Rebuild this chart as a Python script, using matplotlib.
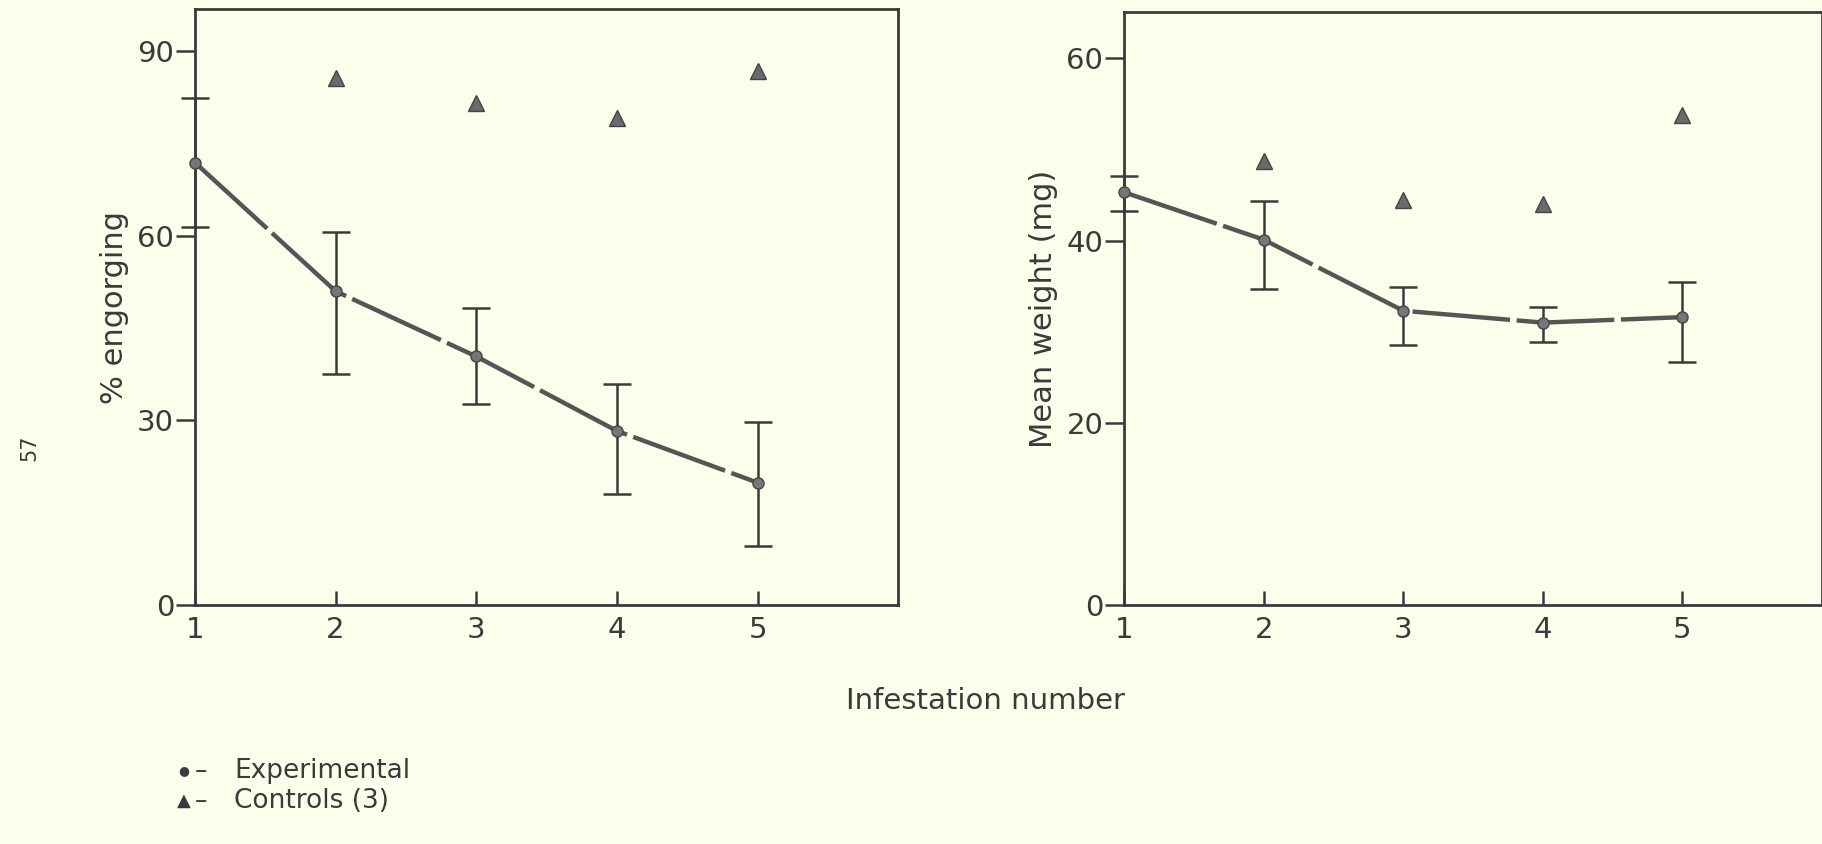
import matplotlib.pyplot as plt
import numpy as np

plt.rcParams['font.family'] = ['DejaVu Sans']

infestation = np.array([1, 2, 3, 4, 5])
control_x = np.array([2, 3, 4, 5])

# % engorging
engorge_exp = np.array([71.9, 51.0, 40.4, 28.3, 19.9])
engorge_hi = np.array([82.4, 60.7, 48.3, 36.0, 29.7])
engorge_lo = np.array([61.5, 37.6, 32.7, 18.1, 9.6])
engorge_ctrl = np.array([85.7, 81.5, 79.1, 86.8])

# mean weight (mg)
weight_exp = np.array([45.3, 40.1, 32.3, 31.0, 31.6])
weight_hi = np.array([47.1, 44.3, 34.9, 32.7, 35.5])
weight_lo = np.array([43.3, 34.7, 28.5, 28.9, 26.7])
weight_ctrl = np.array([48.7, 44.5, 44.0, 53.8])

bg = '#fdfdec'
ink = '#3a3a3a'

fig = plt.figure(figsize=(18.22, 8.44), dpi=100, facecolor=bg)
ax1 = fig.add_axes([0.107, 0.283, 0.386, 0.706])
ax2 = fig.add_axes([0.617, 0.283, 0.383, 0.703])


def panel(ax, y, hi, lo, ctrl, ymax, yticks, ylabel):
    ax.set_facecolor(bg)
    eb = ax.errorbar(infestation, y, yerr=[y - lo, hi - y], fmt='none',
                     ecolor=ink, elinewidth=1.8, capsize=10, capthick=1.8,
                     zorder=2)
    for art in eb.lines[1] + eb.lines[2]:
        art.set_clip_on(False)
    ax.plot(infestation, y, color='#555555', lw=3.2, dashes=(22, 1.5),
            zorder=3, clip_on=False)
    ax.plot(infestation, y, 'o', color='#767676', mec='#454545', ms=8,
            zorder=4, clip_on=False)
    ax.plot(control_x, ctrl, '^', color='#6a6a6a', mec='#444444', ms=12,
            zorder=4)
    ax.set_xlim(1, 6)
    ax.set_ylim(0, ymax)
    ax.set_xticks([1, 2, 3, 4, 5])
    ax.set_yticks(yticks)
    ax.tick_params(axis='x', direction='in', length=10, width=1.8,
                   labelsize=21, colors=ink, pad=8)
    ax.tick_params(axis='y', direction='out', length=14, width=1.8,
                   labelsize=21, colors=ink, pad=1)
    for s in ax.spines.values():
        s.set_linewidth(2)
        s.set_color(ink)
    ax.set_ylabel(ylabel, fontsize=22, color=ink, labelpad=6)


panel(ax1, engorge_exp, engorge_hi, engorge_lo, engorge_ctrl, 96.8,
      [0, 30, 60, 90], '% engorging')
panel(ax2, weight_exp, weight_hi, weight_lo, weight_ctrl, 65.1,
      [0, 20, 40, 60], 'Mean weight (mg)')

fig.text(0.541, 0.17, 'Infestation number', fontsize=21, color=ink,
         ha='center', va='center')
fig.text(0.016, 0.47, '57', fontsize=15, color=ink, rotation=90,
         ha='center', va='center')

# key below the panels
legend_rows = [('\u25cf', 9, 'Experimental', 0.087),
               ('\u25b2', 13, 'Controls (3)', 0.051)]
for sym, size, label, yy in legend_rows:
    fig.text(0.101, yy, sym, fontsize=size, color=ink, va='center',
             ha='center')
    fig.text(0.107, yy, '\u2013', fontsize=18, color=ink, va='center')
    fig.text(0.1285, yy, label, fontsize=19, color=ink, va='center')

fig.savefig('out.png', dpi=100, facecolor=bg)
